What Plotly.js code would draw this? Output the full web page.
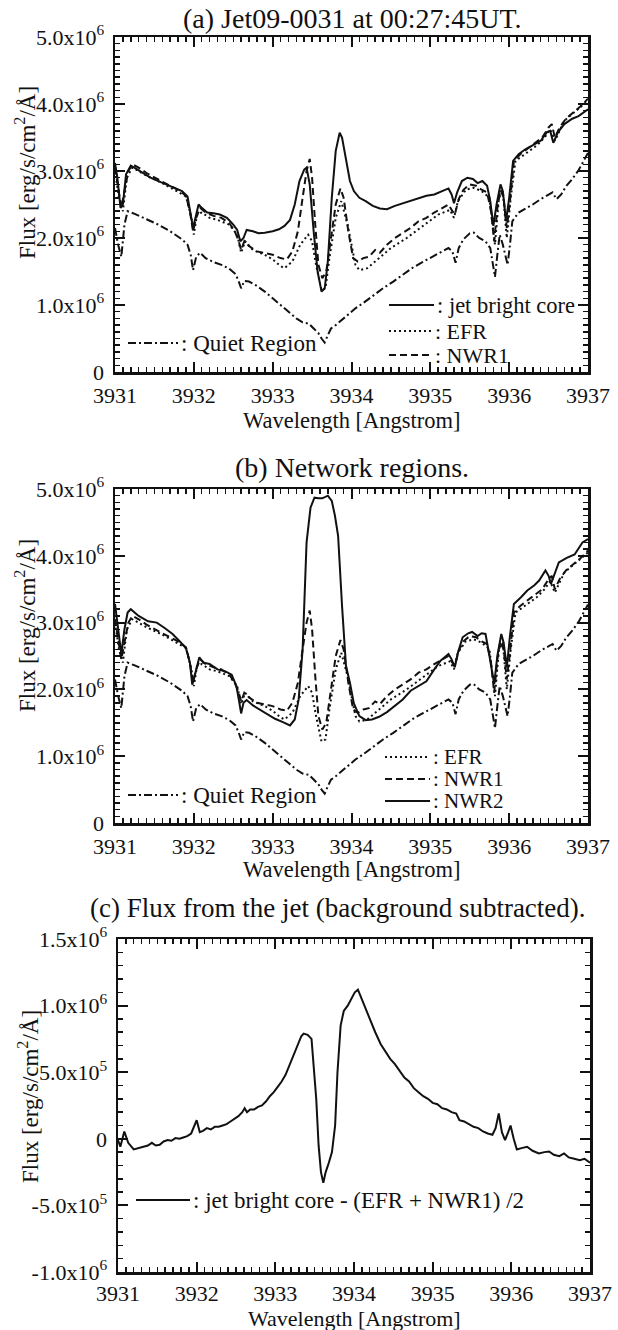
<!DOCTYPE html>
<html>
<head>
<meta charset="utf-8">
<script src="https://cdn.plot.ly/plotly-3.0.1.min.js"></script>
<style>
  html, body { margin: 0; padding: 0; background: #fff; }
  #chart { width: 618px; height: 1330px; }
</style>
</head>
<body>
<div id="chart"></div>
<script>
// Ca II K line profiles, flux in units of 1e6 erg/s/cm2/A

// jet bright core
const jetWl = [3931.00,3931.03,3931.07,3931.10,3931.14,3931.20,3931.26,3931.35,3931.45,3931.55,3931.65,3931.75,3931.85,3931.92,3931.96,3931.99,3932.02,3932.06,3932.10,3932.17,3932.25,3932.33,3932.42,3932.50,3932.55,3932.59,3932.63,3932.67,3932.75,3932.82,3932.90,3933.00,3933.08,3933.15,3933.22,3933.28,3933.34,3933.40,3933.43,3933.47,3933.52,3933.57,3933.62,3933.66,3933.70,3933.75,3933.80,3933.85,3933.88,3933.93,3933.98,3934.03,3934.10,3934.18,3934.27,3934.36,3934.45,3934.55,3934.65,3934.75,3934.85,3934.95,3935.05,3935.15,3935.23,3935.27,3935.30,3935.34,3935.40,3935.47,3935.54,3935.60,3935.66,3935.72,3935.76,3935.80,3935.84,3935.89,3935.92,3935.96,3936.00,3936.05,3936.12,3936.20,3936.30,3936.40,3936.48,3936.52,3936.56,3936.62,3936.70,3936.80,3936.88,3936.95,3937.00];
const jetFlux = [3.12,2.90,2.45,2.50,2.95,3.08,3.04,2.97,2.90,2.85,2.80,2.74,2.70,2.62,2.35,2.15,2.30,2.50,2.45,2.38,2.37,2.35,2.30,2.20,2.12,1.95,2.00,2.12,2.10,2.07,2.08,2.10,2.13,2.18,2.27,2.50,2.85,3.02,3.05,2.80,2.10,1.50,1.20,1.25,1.65,2.60,3.30,3.57,3.50,3.15,2.85,2.70,2.60,2.55,2.48,2.44,2.43,2.48,2.52,2.56,2.60,2.63,2.65,2.70,2.74,2.65,2.52,2.68,2.85,2.90,2.88,2.82,2.85,2.78,2.55,2.18,2.50,2.80,2.70,2.25,2.60,3.15,3.25,3.32,3.38,3.45,3.58,3.60,3.42,3.58,3.70,3.78,3.82,3.88,3.92];

// EFR
const efrWl = [3931.00,3931.05,3931.10,3931.15,3931.22,3931.40,3931.60,3931.80,3931.90,3931.97,3932.00,3932.04,3932.10,3932.20,3932.30,3932.45,3932.55,3932.60,3932.65,3932.75,3932.90,3933.00,3933.10,3933.15,3933.25,3933.35,3933.45,3933.50,3933.55,3933.62,3933.67,3933.72,3933.80,3933.87,3933.95,3934.05,3934.10,3934.20,3934.35,3934.50,3934.70,3934.90,3935.10,3935.25,3935.30,3935.35,3935.45,3935.55,3935.65,3935.75,3935.82,3935.87,3935.92,3935.97,3936.02,3936.08,3936.20,3936.35,3936.45,3936.52,3936.58,3936.70,3936.80,3936.90,3937.00];
const efrFlux = [3.00,2.60,2.40,2.90,3.05,2.93,2.82,2.68,2.62,2.30,2.05,2.35,2.38,2.30,2.27,2.20,2.05,1.78,1.95,1.82,1.75,1.68,1.58,1.55,1.65,1.90,2.05,1.95,1.60,1.22,1.25,1.70,2.30,2.55,2.20,1.60,1.52,1.55,1.70,1.85,2.00,2.17,2.35,2.42,2.30,2.55,2.72,2.75,2.70,2.60,1.90,2.60,2.70,2.00,2.60,3.15,3.25,3.38,3.50,3.62,3.45,3.75,3.85,3.95,4.05];

// NWR1
const nwr1Wl = [3931.00,3931.04,3931.08,3931.12,3931.17,3931.22,3931.30,3931.40,3931.50,3931.60,3931.70,3931.80,3931.90,3931.95,3931.99,3932.03,3932.08,3932.15,3932.25,3932.35,3932.45,3932.52,3932.57,3932.60,3932.64,3932.70,3932.80,3932.90,3933.00,3933.10,3933.18,3933.25,3933.32,3933.38,3933.43,3933.47,3933.50,3933.54,3933.58,3933.63,3933.68,3933.74,3933.80,3933.86,3933.90,3933.96,3934.02,3934.08,3934.15,3934.22,3934.30,3934.36,3934.45,3934.55,3934.65,3934.75,3934.85,3934.95,3935.05,3935.15,3935.23,3935.28,3935.31,3935.36,3935.42,3935.50,3935.58,3935.65,3935.72,3935.77,3935.81,3935.85,3935.89,3935.93,3935.97,3936.01,3936.06,3936.14,3936.22,3936.32,3936.42,3936.50,3936.54,3936.58,3936.64,3936.72,3936.82,3936.92,3937.00];
const nwr1Flux = [3.05,2.75,2.45,2.70,3.00,3.10,3.05,2.97,2.90,2.84,2.78,2.72,2.63,2.40,2.10,2.30,2.45,2.38,2.33,2.30,2.22,2.10,1.95,1.82,1.95,1.88,1.80,1.78,1.75,1.70,1.68,1.80,2.10,2.60,3.00,3.18,2.90,2.20,1.60,1.40,1.50,2.00,2.50,2.74,2.60,2.10,1.70,1.65,1.70,1.72,1.82,1.78,1.90,2.00,2.08,2.15,2.25,2.30,2.38,2.45,2.50,2.40,2.35,2.58,2.72,2.80,2.78,2.72,2.68,2.40,1.95,2.45,2.72,2.60,2.15,2.55,3.15,3.25,3.32,3.40,3.50,3.65,3.70,3.50,3.65,3.78,3.88,3.98,4.08];

// NWR2
const nwr2Wl = [3931.00,3931.04,3931.08,3931.12,3931.16,3931.20,3931.30,3931.42,3931.53,3931.63,3931.73,3931.82,3931.90,3931.95,3931.98,3932.02,3932.07,3932.12,3932.20,3932.30,3932.40,3932.48,3932.54,3932.57,3932.60,3932.63,3932.67,3932.75,3932.83,3932.93,3933.03,3933.13,3933.22,3933.28,3933.33,3933.38,3933.43,3933.48,3933.53,3933.58,3933.63,3933.70,3933.75,3933.79,3933.83,3933.88,3933.93,3933.98,3934.03,3934.10,3934.18,3934.26,3934.35,3934.45,3934.55,3934.65,3934.75,3934.85,3934.95,3935.05,3935.13,3935.23,3935.27,3935.31,3935.35,3935.41,3935.48,3935.53,3935.60,3935.65,3935.70,3935.75,3935.81,3935.85,3935.90,3935.93,3935.97,3936.01,3936.06,3936.15,3936.23,3936.32,3936.38,3936.46,3936.50,3936.53,3936.58,3936.63,3936.73,3936.83,3936.93,3937.00];
const nwr2Flux = [3.28,2.90,2.53,2.90,3.15,3.20,3.10,3.02,3.00,2.92,2.83,2.72,2.62,2.40,2.07,2.25,2.48,2.40,2.38,2.30,2.27,2.22,2.05,1.85,1.64,1.80,1.84,1.76,1.70,1.63,1.56,1.51,1.46,1.55,1.85,2.60,4.20,4.72,4.87,4.86,4.86,4.90,4.82,4.60,4.30,3.25,2.35,2.10,1.79,1.60,1.54,1.55,1.59,1.66,1.75,1.85,1.98,2.05,2.12,2.30,2.43,2.53,2.45,2.33,2.55,2.78,2.84,2.86,2.80,2.84,2.83,2.50,2.08,2.50,2.83,2.70,2.33,2.80,3.28,3.38,3.48,3.56,3.63,3.78,3.70,3.58,3.75,3.90,3.97,4.02,4.20,4.25];

// Quiet Region
const qrWl = [3931.00,3931.04,3931.08,3931.12,3931.16,3931.25,3931.40,3931.55,3931.70,3931.85,3931.92,3931.96,3931.99,3932.03,3932.08,3932.15,3932.25,3932.35,3932.45,3932.53,3932.57,3932.60,3932.64,3932.70,3932.78,3932.90,3933.00,3933.10,3933.20,3933.30,3933.38,3933.46,3933.52,3933.58,3933.62,3933.66,3933.70,3933.74,3933.80,3933.88,3933.95,3934.05,3934.15,3934.28,3934.40,3934.53,3934.65,3934.78,3934.90,3935.03,3935.13,3935.23,3935.28,3935.32,3935.36,3935.42,3935.50,3935.55,3935.62,3935.70,3935.76,3935.79,3935.82,3935.85,3935.88,3935.92,3935.95,3935.98,3936.01,3936.04,3936.12,3936.20,3936.30,3936.40,3936.50,3936.55,3936.60,3936.66,3936.72,3936.80,3936.88,3936.94,3937.00];
const qrFlux = [2.15,1.90,1.72,2.20,2.40,2.36,2.28,2.20,2.10,1.98,1.90,1.75,1.52,1.72,1.78,1.70,1.64,1.60,1.54,1.46,1.35,1.25,1.36,1.35,1.30,1.20,1.10,1.00,0.90,0.80,0.74,0.72,0.65,0.58,0.50,0.44,0.55,0.65,0.70,0.78,0.85,0.95,1.03,1.15,1.25,1.35,1.45,1.56,1.64,1.72,1.78,1.85,1.80,1.63,1.85,1.98,2.07,2.08,2.00,1.95,1.85,1.60,1.42,1.75,2.05,1.90,1.75,1.60,1.90,2.25,2.38,2.43,2.50,2.58,2.65,2.68,2.58,2.65,2.77,2.88,3.01,3.15,3.27];

// jet bright core - (EFR + NWR1)/2
const diffWl = [3931.00,3931.03,3931.08,3931.13,3931.20,3931.27,3931.33,3931.38,3931.43,3931.48,3931.53,3931.58,3931.63,3931.68,3931.73,3931.78,3931.83,3931.88,3931.93,3931.97,3932.00,3932.04,3932.08,3932.13,3932.18,3932.23,3932.28,3932.33,3932.38,3932.43,3932.48,3932.53,3932.58,3932.61,3932.64,3932.68,3932.73,3932.78,3932.83,3932.88,3932.93,3932.98,3933.03,3933.08,3933.13,3933.18,3933.23,3933.28,3933.33,3933.36,3933.41,3933.46,3933.49,3933.52,3933.55,3933.58,3933.61,3933.64,3933.68,3933.72,3933.76,3933.79,3933.83,3933.87,3933.92,3933.97,3934.01,3934.05,3934.09,3934.14,3934.20,3934.27,3934.34,3934.40,3934.46,3934.52,3934.58,3934.64,3934.70,3934.76,3934.82,3934.88,3934.94,3935.00,3935.06,3935.12,3935.18,3935.24,3935.30,3935.34,3935.40,3935.46,3935.52,3935.58,3935.64,3935.70,3935.76,3935.80,3935.84,3935.88,3935.92,3935.96,3935.99,3936.03,3936.07,3936.13,3936.20,3936.27,3936.35,3936.42,3936.48,3936.54,3936.61,3936.67,3936.73,3936.80,3936.87,3936.93,3937.00];
const diffFlux = [-0.01,-0.06,0.055,-0.03,-0.08,-0.07,-0.06,-0.05,-0.03,-0.05,-0.045,-0.02,-0.01,-0.015,0.005,0.0,0.01,0.02,0.04,0.10,0.14,0.05,0.06,0.08,0.07,0.09,0.09,0.10,0.11,0.13,0.15,0.17,0.20,0.23,0.20,0.22,0.22,0.24,0.25,0.28,0.32,0.35,0.39,0.43,0.48,0.55,0.63,0.70,0.77,0.79,0.78,0.75,0.55,0.30,-0.05,-0.25,-0.33,-0.25,-0.18,-0.10,0.10,0.50,0.85,0.96,1.00,1.05,1.10,1.12,1.06,0.98,0.90,0.80,0.71,0.65,0.60,0.56,0.51,0.46,0.43,0.38,0.35,0.32,0.30,0.27,0.26,0.23,0.22,0.20,0.19,0.14,0.13,0.11,0.09,0.08,0.055,0.04,0.03,0.08,0.19,0.05,-0.01,0.05,0.10,0.00,-0.08,-0.07,-0.06,-0.09,-0.11,-0.10,-0.095,-0.12,-0.13,-0.11,-0.14,-0.15,-0.16,-0.15,-0.18];

// tick labels
const wlTicks = [3931, 3932, 3933, 3934, 3935, 3936, 3937];
const fluxTicksAB = [0, 1, 2, 3, 4, 5];
const fluxLabelsAB = ['0', '1.0x10<sup>6</sup>', '2.0x10<sup>6</sup>', '3.0x10<sup>6</sup>', '4.0x10<sup>6</sup>', '5.0x10<sup>6</sup>'];
const fluxTicksC = [-1.0, -0.5, 0, 0.5, 1.0, 1.5];
const fluxLabelsC = ['-1.0x10<sup>6</sup>', '-5.0x10<sup>5</sup>', '0', '5.0x10<sup>5</sup>', '1.0x10<sup>6</sup>', '1.5x10<sup>6</sup>'];

const panelTitles = ['(a) Jet09-0031 at 00:27:45UT.', '(b) Network regions.', '(c) Flux from the jet (background subtracted).'];
const xTitle = 'Wavelength [Angstrom]';
const yTitle = 'Flux [erg/s/cm<sup>2</sup>/Å]';

// ---- styling ----
const W = 618, H = 1330;
const FONT = '"Liberation Serif", "Times New Roman", Times, serif';
const px = x => x / W;
const py = y => 1 - y / H;

const SOLID = 'solid';
const DOT = '2px,3px';
const DASH = '7px,4px';
const DASHDOT = '8px,3px,2px,3px';

function line(x, y, dash, xa, ya) {
  return { x: x, y: y, type: 'scatter', mode: 'lines', xaxis: xa, yaxis: ya,
    line: { color: '#111', width: 2, dash: dash }, hoverinfo: 'skip', showlegend: false };
}

const traces = [
  line(qrWl, qrFlux, DASHDOT, 'x', 'y'),
  line(efrWl, efrFlux, DOT, 'x', 'y'),
  line(nwr1Wl, nwr1Flux, DASH, 'x', 'y'),
  line(jetWl, jetFlux, SOLID, 'x', 'y'),

  line(qrWl, qrFlux, DASHDOT, 'x2', 'y2'),
  line(efrWl, efrFlux, DOT, 'x2', 'y2'),
  line(nwr1Wl, nwr1Flux, DASH, 'x2', 'y2'),
  line(nwr2Wl, nwr2Flux, SOLID, 'x2', 'y2'),

  line(diffWl, diffFlux, SOLID, 'x3', 'y3')
];

function xAxis(domain, anchor, standoff) {
  return {
    domain: domain, anchor: anchor, range: [3931, 3937],
    showline: true, linewidth: 2.5, linecolor: '#111', mirror: 'allticks',
    ticks: 'inside', ticklen: 10, tickwidth: 2, tickcolor: '#111',
    tickvals: wlTicks, ticktext: wlTicks.map(String),
    tickfont: { family: FONT, size: 22, color: '#111' },
    ticklabelstandoff: standoff,
    minor: { ticks: 'inside', ticklen: 5, tickwidth: 1.5, tickcolor: '#111', dtick: 0.1 },
    showgrid: false, zeroline: false, fixedrange: true, automargin: false
  };
}

function yAxis(domain, anchor, range, vals, labels, minorStep) {
  return {
    domain: domain, anchor: anchor, range: range,
    showline: true, linewidth: 2.5, linecolor: '#111', mirror: 'allticks',
    ticks: 'inside', ticklen: 10, tickwidth: 2, tickcolor: '#111',
    tickvals: vals, ticktext: labels,
    tickfont: { family: FONT, size: 22, color: '#111' },
    ticklabelstandoff: 4,
    minor: { ticks: 'inside', ticklen: 5, tickwidth: 1.5, tickcolor: '#111', dtick: minorStep },
    showgrid: false, zeroline: false, fixedrange: true, automargin: false
  };
}

const xDomAB = [px(115), px(588)];
const xDomC = [px(118), px(590)];

const annotations = [];
const shapes = [];

function text(x, y, s, size, anchor, angle) {
  annotations.push({ xref: 'paper', yref: 'paper', x: px(x), y: py(y), text: s,
    showarrow: false, xanchor: anchor || 'center', yanchor: 'middle', textangle: angle || 0,
    font: { family: FONT, size: size, color: '#111' } });
}

function legendItem(x0, x1, y, dash, label, size) {
  shapes.push({ type: 'line', xref: 'paper', yref: 'paper', x0: px(x0), x1: px(x1), y0: py(y), y1: py(y),
    line: { color: '#111', width: 2, dash: dash } });
  text(x1 + 1, y, label, size || 23, 'left');
}

// panel titles
text(352, 18, panelTitles[0], 28);
text(352, 467, panelTitles[1], 28);
text(338, 908, panelTitles[2], 27);

// axis titles
text(352, 420, xTitle, 22.5);
text(352, 869, xTitle, 22.5);
text(354, 1318, xTitle, 22);
text(26, 173, yTitle, 23, 'center', -90);
text(26, 626, yTitle, 23, 'center', -90);
text(28, 1097, yTitle, 23, 'center', -90);

// legends, panel (a)
legendItem(389, 434, 305, SOLID, ': jet bright core', 22.5);
legendItem(389, 432, 331, DOT, ': EFR', 22);
legendItem(389, 432, 355, DASH, ': NWR1', 22);
legendItem(128, 178, 343, DASHDOT, ': Quiet Region', 23);

// legends, panel (b)
legendItem(385, 430, 757, DOT, ': EFR', 21);
legendItem(385, 430, 779, DASH, ': NWR1', 21);
legendItem(385, 430, 801, SOLID, ': NWR2', 21);
legendItem(128, 178, 795, DASHDOT, ': Quiet Region', 23);

// legend, panel (c)
legendItem(136, 190, 1200, SOLID, ': jet bright core - (EFR + NWR1) /2', 23);

const layout = {
  width: W, height: H,
  margin: { l: 0, r: 0, t: 0, b: 0, pad: 0 },
  paper_bgcolor: '#fff', plot_bgcolor: '#fff',
  font: { family: FONT, color: '#111' },
  showlegend: false,
  xaxis: xAxis(xDomAB, 'y', 2),
  yaxis: yAxis([py(372), py(37)], 'x', [0, 5], fluxTicksAB, fluxLabelsAB, 0.1),
  xaxis2: xAxis(xDomAB, 'y2', 2),
  yaxis2: yAxis([py(823), py(489)], 'x2', [0, 5], fluxTicksAB, fluxLabelsAB, 0.1),
  xaxis3: xAxis(xDomC, 'y3', 0),
  yaxis3: yAxis([py(1272), py(939)], 'x3', [-1, 1.5], fluxTicksC, fluxLabelsC, 0.1),
  annotations: annotations,
  shapes: shapes
};

Plotly.newPlot('chart', traces, layout, { displayModeBar: false, staticPlot: true });
</script>
</body>
</html>
